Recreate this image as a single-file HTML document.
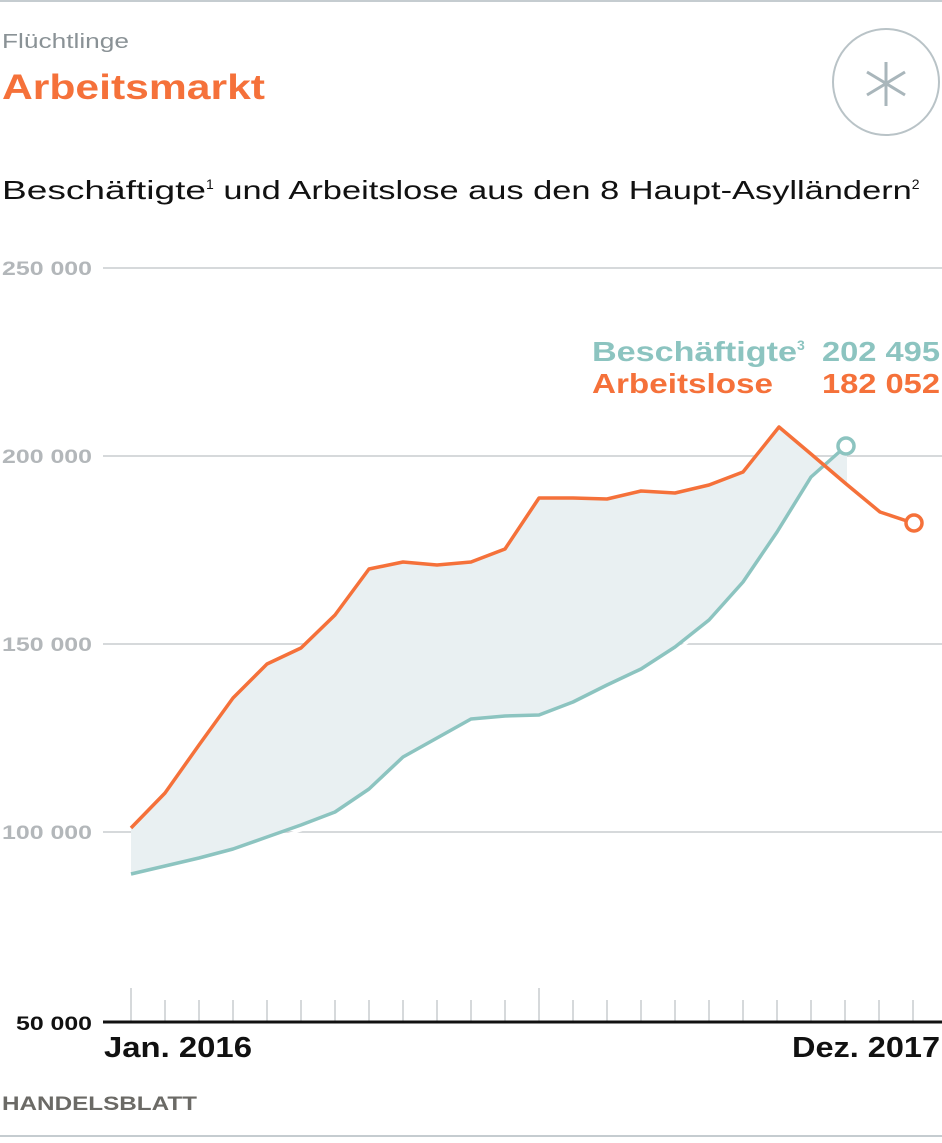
<!DOCTYPE html>
<html><head><meta charset="utf-8"><style>
body{margin:0;background:#fff;width:942px;height:1138px;overflow:hidden;font-family:"Liberation Sans",sans-serif}
</style></head><body>
<svg width="942" height="1138" xmlns="http://www.w3.org/2000/svg" font-family="Liberation Sans, sans-serif">
<line x1="0" y1="1" x2="942" y2="1" stroke="#c5ccd0" stroke-width="2"/>
<line x1="0" y1="1136" x2="942" y2="1136" stroke="#c5ccd0" stroke-width="2"/>
<text x="2" y="48" font-size="20" fill="#8a9296" textLength="127" lengthAdjust="spacingAndGlyphs">Flüchtlinge</text>
<text x="2" y="99" font-size="35" font-weight="bold" fill="#f5713a" textLength="263" lengthAdjust="spacingAndGlyphs">Arbeitsmarkt</text>
<circle cx="886" cy="82" r="53" fill="none" stroke="#b9c3c7" stroke-width="2"/>
<g stroke="#a9b6bb" stroke-width="3"><line x1="886" y1="62" x2="886" y2="106"/><line x1="867" y1="72" x2="905" y2="95"/><line x1="867" y1="95" x2="905" y2="72"/></g>
<text x="2" y="199" font-size="26" fill="#111"><tspan textLength="204" lengthAdjust="spacingAndGlyphs">Beschäftigte</tspan><tspan font-size="14" dy="-10">1</tspan><tspan dy="10" textLength="698" lengthAdjust="spacingAndGlyphs"> und Arbeitslose aus den 8 Haupt-Asylländern</tspan><tspan font-size="14" dy="-10">2</tspan></text>
<g stroke="#d6d9db" stroke-width="2"><line x1="103" y1="268" x2="942" y2="268"/><line x1="103" y1="456" x2="942" y2="456"/><line x1="103" y1="644" x2="942" y2="644"/><line x1="103" y1="832" x2="942" y2="832"/></g>
<g font-size="19" font-weight="bold" fill="#b3b7ba"><text x="2" y="275" textLength="90" lengthAdjust="spacingAndGlyphs">250 000</text><text x="2" y="463" textLength="90" lengthAdjust="spacingAndGlyphs">200 000</text><text x="2" y="651" textLength="90" lengthAdjust="spacingAndGlyphs">150 000</text><text x="2" y="839" textLength="90" lengthAdjust="spacingAndGlyphs">100 000</text></g>
<text x="16" y="1030" font-size="19" font-weight="bold" fill="#111" textLength="76" lengthAdjust="spacingAndGlyphs">50 000</text>
<polygon fill="#e9f0f2" points="131,828 165,793 199,745 233,698 267,664 301,648 335,615 369,569 403,562 437,565 471,562 505,549 539,498 573,498 607,499 641,491 675,493 709,485 743,472 779,427 811,454 847,484 847,446 811,477 777,532 743,582 709,620 675,647 641,669 607,685 573,702 539,715 505,716 471,719 437,738 403,757 369,789 335,812 301,825 267,837 233,849 199,858 165,866 131,874"/>
<polyline fill="none" stroke="#fff" stroke-width="3" points="131,879 165,871 199,863 233,854 267,842 301,830 335,817 369,794 403,762 437,743 471,724 505,721 539,720 573,707 607,690 641,674 675,652 709,625 743,587 777,537 811,482"/>
<polyline fill="none" stroke="#8cc4c0" stroke-width="3.5" stroke-linejoin="round" points="131,874 165,866 199,858 233,849 267,837 301,825 335,812 369,789 403,757 437,738 471,719 505,716 539,715 573,702 607,685 641,669 675,647 709,620 743,582 777,532 811,477 846,446"/>
<polyline fill="none" stroke="#f5713a" stroke-width="3.5" stroke-linejoin="round" points="131,828 165,793 199,745 233,698 267,664 301,648 335,615 369,569 403,562 437,565 471,562 505,549 539,498 573,498 607,499 641,491 675,493 709,485 743,472 779,427 811,454 845,483 880,512 913,523"/>
<circle cx="846" cy="446" r="8" fill="#fff" stroke="#8cc4c0" stroke-width="3.5"/>
<circle cx="914" cy="523" r="8" fill="#fff" stroke="#f5713a" stroke-width="3.5"/>
<g font-size="28" font-weight="bold"><text x="592" y="361" fill="#8cc4c0"><tspan textLength="205" lengthAdjust="spacingAndGlyphs">Beschäftigte</tspan><tspan font-size="14" dy="-11">3</tspan></text><text x="822" y="361" fill="#8cc4c0" textLength="118" lengthAdjust="spacingAndGlyphs">202 495</text>
<text x="592" y="393" fill="#f5713a" textLength="181" lengthAdjust="spacingAndGlyphs">Arbeitslose</text><text x="822" y="393" fill="#f5713a" textLength="118" lengthAdjust="spacingAndGlyphs">182 052</text></g>
<g stroke="#d6d9db" stroke-width="2">
<line x1="131" y1="988" x2="131" y2="1021"/><line x1="539" y1="988" x2="539" y2="1021"/>
<line x1="165" y1="1000" x2="165" y2="1021"/><line x1="199" y1="1000" x2="199" y2="1021"/><line x1="233" y1="1000" x2="233" y2="1021"/><line x1="267" y1="1000" x2="267" y2="1021"/><line x1="301" y1="1000" x2="301" y2="1021"/><line x1="335" y1="1000" x2="335" y2="1021"/><line x1="369" y1="1000" x2="369" y2="1021"/><line x1="403" y1="1000" x2="403" y2="1021"/><line x1="437" y1="1000" x2="437" y2="1021"/><line x1="471" y1="1000" x2="471" y2="1021"/><line x1="505" y1="1000" x2="505" y2="1021"/><line x1="573" y1="1000" x2="573" y2="1021"/><line x1="607" y1="1000" x2="607" y2="1021"/><line x1="641" y1="1000" x2="641" y2="1021"/><line x1="675" y1="1000" x2="675" y2="1021"/><line x1="709" y1="1000" x2="709" y2="1021"/><line x1="743" y1="1000" x2="743" y2="1021"/><line x1="777" y1="1000" x2="777" y2="1021"/><line x1="811" y1="1000" x2="811" y2="1021"/><line x1="845" y1="1000" x2="845" y2="1021"/><line x1="879" y1="1000" x2="879" y2="1021"/><line x1="913" y1="1000" x2="913" y2="1021"/>
</g>
<line x1="103" y1="1022" x2="942" y2="1022" stroke="#111" stroke-width="3"/>
<text x="104" y="1057" font-size="29" font-weight="bold" fill="#111" textLength="148" lengthAdjust="spacingAndGlyphs">Jan. 2016</text>
<text x="792" y="1057" font-size="29" font-weight="bold" fill="#111" textLength="148" lengthAdjust="spacingAndGlyphs">Dez. 2017</text>
<text x="2" y="1110" font-size="19" font-weight="bold" fill="#6b6a66" textLength="195" lengthAdjust="spacingAndGlyphs">HANDELSBLATT</text>
</svg>
</body></html>
